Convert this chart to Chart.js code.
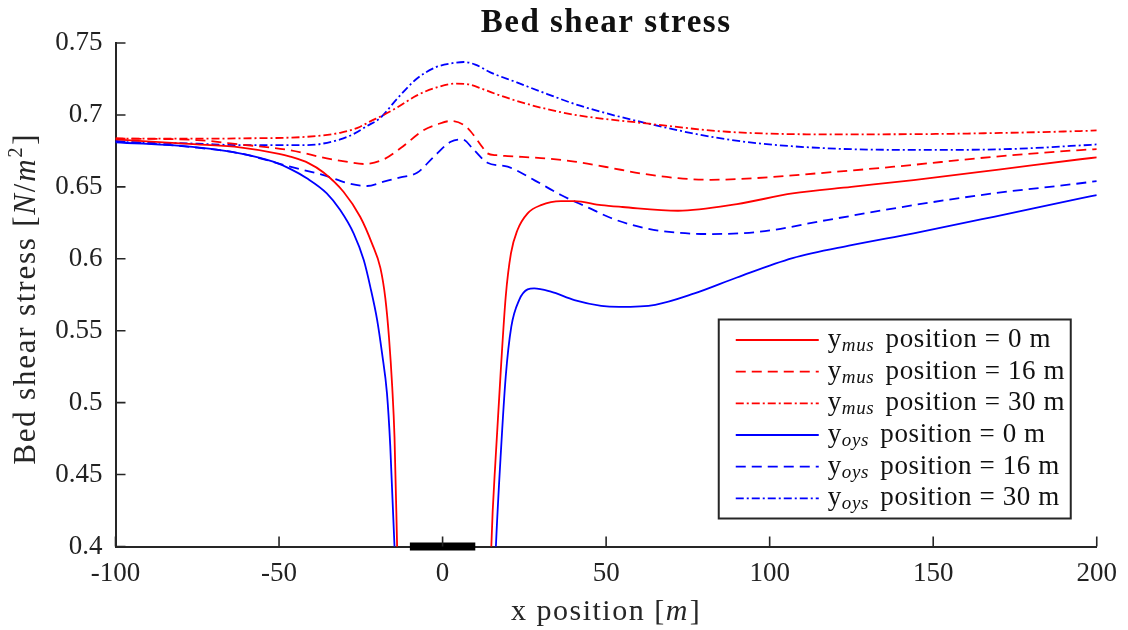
<!DOCTYPE html>
<html>
<head>
<meta charset="utf-8">
<script src="https://cdn.jsdelivr.net/npm/chart.js@4.4.1/dist/chart.umd.min.js"></script>
<style>
  html, body { margin: 0; padding: 0; background: #fff; }
  #wrap { width: 1128px; height: 630px; }
</style>
</head>
<body>
<div id="wrap"><canvas id="c" width="1128" height="630"></canvas></div>
<script>
// x positions [m] and bed shear stress [N/m^2] along each transect
// (the 0 m transects pass over the structure, so they break in the middle)
const xMus0 = [-100,-75,-62,-50,-46.6,-41,-36.4,-30.3,-25.2,-21.6,-19,-17.5,-16.4,-15.4,-14.7,-13.9,-13.2,0,14.2,14.9,16.3,17.8,19.3,20.9,22.9,26,30.1,36.2,40.3,48.5,55,72,90,107,125,144,170,195,200];
const tauMus0 = [0.683,0.6795,0.6775,0.673,0.671,0.6665,0.66,0.6466,0.6292,0.6107,0.5935,0.5725,0.5458,0.511,0.4762,0.40,0.33,null,0.33,0.40,0.4647,0.5226,0.5736,0.6037,0.62,0.6316,0.6373,0.6401,0.6401,0.6373,0.636,0.6334,0.638,0.6455,0.65,0.6547,0.662,0.6692,0.6705];

const xMus16 = [-100,-75,-62,-46.6,-35.4,-29.5,-24.1,-18,-12.9,-5.7,-1.5,2.5,6.5,8.6,10.6,12.2,13.7,16.5,19.9,30.1,40.3,50,61.5,72,82,95,107,138,168.5,195,200];
const tauMus16 = [0.6836,0.6825,0.6795,0.6755,0.6698,0.6675,0.6659,0.6691,0.6768,0.6895,0.6935,0.6958,0.693,0.6885,0.6825,0.6775,0.6733,0.672,0.6714,0.67,0.6676,0.6638,0.659,0.656,0.6549,0.656,0.658,0.664,0.6709,0.6756,0.6762];

const xMus30 = [-100,-75,-62,-41.5,-31.3,-26,-22.1,-18,-14,-8,-2,4,8,12.5,17,22.7,32,42,61.5,87,117.5,148,173.6,195,200];
const tauMus30 = [0.6836,0.6835,0.6837,0.6848,0.6876,0.691,0.6955,0.70,0.705,0.7134,0.719,0.7218,0.7212,0.7178,0.714,0.7097,0.704,0.6995,0.6943,0.6883,0.6865,0.6867,0.6876,0.6888,0.6892];

const xOys0 = [-100,-75,-62,-51.8,-46.6,-41.5,-35.4,-31.3,-27.2,-24.1,-22.1,-20,-18.5,-17,-16,-14.7,-13.8,0,15.3,16.3,17.8,19.3,21,23.4,26,28,33.1,40.3,48.5,54,65,77,90,107,125,144,168.5,195,200];
const tauOys0 = [0.681,0.6775,0.6733,0.6675,0.6625,0.656,0.6455,0.6339,0.6177,0.5991,0.5805,0.5574,0.5342,0.5064,0.47,0.40,0.34,null,0.34,0.40,0.4647,0.518,0.5527,0.5713,0.5787,0.5794,0.5771,0.5713,0.5673,0.5666,0.568,0.5759,0.587,0.6005,0.6095,0.6177,0.6292,0.642,0.6443];

const xOys16 = [-100,-75,-62,-46.6,-35.4,-29.3,-23.1,-18,-12.9,-7.8,-2.7,2.5,6,9.6,13.7,19.9,28,36.2,44.4,51.3,58,66.6,82,97,117.5,144,168.5,195,200];
const tauOys16 = [0.6819,0.6772,0.6733,0.664,0.6575,0.6528,0.6506,0.6536,0.6566,0.6598,0.6709,0.6814,0.683,0.6756,0.6668,0.664,0.6547,0.6443,0.6357,0.6285,0.6235,0.6194,0.6172,0.6188,0.6269,0.6373,0.6455,0.6525,0.654];

const xOys30 = [-100,-75,-62,-41.5,-31.3,-27,-23.1,-19,-14,-8,-2,3,6.5,10,14.6,22.7,32,42,61.5,87,117.5,148,173.6,195,200];
const tauOys30 = [0.6812,0.680,0.679,0.679,0.683,0.687,0.6923,0.698,0.711,0.725,0.7332,0.736,0.7368,0.735,0.7296,0.7226,0.7145,0.7064,0.6947,0.683,0.6768,0.6757,0.6763,0.6788,0.6795];

// footprint of the structure on the bed
const structureX = [-10, 10];
const structureTau = [0.4, 0.4];

// axis ticks
const xTicks = [-100, -50, 0, 50, 100, 150, 200];
const yTicks = [0.4, 0.45, 0.5, 0.55, 0.6, 0.65, 0.7, 0.75];

// legend text parts
const farmSub = ['mus', 'mus', 'mus', 'oys', 'oys', 'oys'];
const transectPos = [0, 16, 30, 0, 16, 30];

const SERIF = '"Liberation Serif", "Times New Roman", serif';
const AXIS = '#262626';
const RED = '#ff0000', BLUE = '#0000ff';
const DASH = [10, 6];
const DASHDOT = [8, 3, 2, 3];

const zip = (xs, ys) => xs.map((x, i) => ({ x, y: ys[i] }));

function series(i, xs, ys, color, dash) {
  return {
    label: 'y_' + farmSub[i] + ' position = ' + transectPos[i] + ' m',
    data: zip(xs, ys),
    borderColor: color,
    borderDash: dash,
    borderWidth: 1.8,
    pointRadius: 0,
    fill: false,
    cubicInterpolationMode: 'monotone',
    spanGaps: false,
    clip: 0
  };
}

const datasets = [
  series(0, xMus0, tauMus0, RED, []),
  series(1, xMus16, tauMus16, RED, DASH),
  series(2, xMus30, tauMus30, RED, DASHDOT),
  series(3, xOys0, tauOys0, BLUE, []),
  series(4, xOys16, tauOys16, BLUE, DASH),
  series(5, xOys30, tauOys30, BLUE, DASHDOT),
  {
    label: 'structure',
    data: zip(structureX, structureTau),
    borderColor: '#000',
    borderWidth: 8,
    borderCapStyle: 'butt',
    pointRadius: 0,
    clip: false
  }
];

// tick marks pointing into the plot area
const inwardTicks = {
  id: 'inwardTicks',
  afterDatasetsDraw(chart) {
    const { ctx, chartArea: a, scales: { x, y } } = chart;
    ctx.save();
    ctx.strokeStyle = AXIS;
    ctx.lineWidth = 1.6;
    ctx.beginPath();
    x.ticks.forEach(t => {
      const px = x.getPixelForValue(t.value);
      ctx.moveTo(px, a.bottom);
      ctx.lineTo(px, a.bottom - 10);
    });
    y.ticks.forEach(t => {
      const py = y.getPixelForValue(t.value);
      ctx.moveTo(a.left, py);
      ctx.lineTo(a.left + 10, py);
    });
    ctx.stroke();
    ctx.restore();
  }
};

// draws a run of text pieces with their own font and vertical shift
function drawRuns(ctx, runs, startX, baseY) {
  let x = startX;
  runs.forEach(r => {
    ctx.font = r.font;
    ctx.fillText(r.t, x, baseY + (r.dy || 0));
    x += ctx.measureText(r.t).width + (r.after || 0);
  });
  return x;
}
function runsWidth(ctx, runs) {
  let w = 0;
  runs.forEach(r => { ctx.font = r.font; w += ctx.measureText(r.t).width + (r.after || 0); });
  return w;
}

// chart title and axis titles (with italic units), centred on the plot area
const titles = {
  id: 'titles',
  afterDraw(chart) {
    const { ctx, chartArea: a } = chart;
    const cx = (a.left + a.right) / 2;
    ctx.save();
    ctx.textBaseline = 'alphabetic';
    ctx.fillStyle = '#111';
    ctx.letterSpacing = '1.5px';
    ctx.font = 'bold 33px ' + SERIF;
    ctx.textAlign = 'center';
    ctx.fillText('Bed shear stress', cx, 32);
    ctx.textAlign = 'left';

    const up = '30px ' + SERIF, it = 'italic 30px ' + SERIF, sup = '20px ' + SERIF;
    ctx.fillStyle = AXIS;
    const xr = [{ t: 'x position ', font: up }, { t: '[', font: up }, { t: 'm', font: it, after: 1 }, { t: ']', font: up }];
    drawRuns(ctx, xr, cx - runsWidth(ctx, xr) / 2, 620);

    const upY = '31px ' + SERIF, itY = 'italic 31px ' + SERIF;
    ctx.letterSpacing = '1.8px';
    const yr = [{ t: 'Bed shear stress ', font: upY }, { t: '[', font: upY }, { t: 'N', font: itY },
                { t: '/', font: upY }, { t: 'm', font: itY }, { t: '2', font: sup, dy: -13, after: 1 }, { t: ']', font: upY }];
    ctx.translate(35, (a.top + a.bottom) / 2 + 4);
    ctx.rotate(-Math.PI / 2);
    drawRuns(ctx, yr, -runsWidth(ctx, yr) / 2, 0);
    ctx.restore();
  }
};

// boxed legend with subscripted farm names
const legendBox = {
  id: 'legendBox',
  afterDraw(chart) {
    const { ctx, chartArea: a } = chart;
    const w = 352, h = 199;
    const left = a.right - 26 - w, top = a.bottom - 28 - h;
    ctx.save();
    ctx.fillStyle = '#fff';
    ctx.fillRect(left, top, w, h);
    ctx.strokeStyle = AXIS;
    ctx.lineWidth = 2;
    ctx.strokeRect(left, top, w, h);
    const rowH = 31.67;
    ctx.letterSpacing = '0.6px';
    for (let i = 0; i < 6; i++) {
      const ds = chart.data.datasets[i];
      const ry = top + 20.5 + i * rowH;
      ctx.strokeStyle = ds.borderColor;
      ctx.lineWidth = ds.borderWidth;
      ctx.setLineDash(ds.borderDash || []);
      ctx.beginPath();
      ctx.moveTo(left + 17, ry);
      ctx.lineTo(left + 100, ry);
      ctx.stroke();
      ctx.setLineDash([]);
      ctx.fillStyle = '#111';
      ctx.textBaseline = 'alphabetic';
      drawRuns(ctx, [
        { t: 'y', font: '27px ' + SERIF },
        { t: farmSub[i], font: 'italic 19px ' + SERIF, dy: 4, after: 4 },
        { t: ' position = ' + transectPos[i] + ' m', font: '27px ' + SERIF }
      ], left + 109, ry + 7);
    }
    ctx.restore();
  }
};

new Chart(document.getElementById('c'), {
  type: 'line',
  data: { datasets },
  plugins: [inwardTicks, titles, legendBox],
  options: {
    responsive: false,
    animation: false,
    events: [],
    layout: { padding: { left: 0, right: 31, top: 43, bottom: 0 } },
    plugins: {
      legend: { display: false },
      tooltip: { enabled: false },
      title: { display: false }
    },
    scales: {
      x: {
        type: 'linear',
        min: -100, max: 200,
        afterBuildTicks: s => { s.ticks = xTicks.map(v => ({ value: v })); },
        afterFit: s => { s.height = 83.5; },
        grid: { display: false, drawTicks: false },
        border: { display: true, color: AXIS, width: 2 },
        ticks: {
          padding: 11,
          color: '#222',
          font: { family: SERIF, size: 27 },
          callback: v => String(v)
        }
      },
      y: {
        type: 'linear',
        min: 0.4, max: 0.75,
        afterBuildTicks: s => { s.ticks = yTicks.map(v => ({ value: v })); },
        afterFit: s => { s.width = 115.5; },
        grid: { display: false, drawTicks: false },
        border: { display: true, color: AXIS, width: 2 },
        ticks: {
          padding: 13,
          color: '#222',
          font: { family: SERIF, size: 27 },
          callback: v => String(v)
        }
      }
    }
  }
});
</script>
</body>
</html>
